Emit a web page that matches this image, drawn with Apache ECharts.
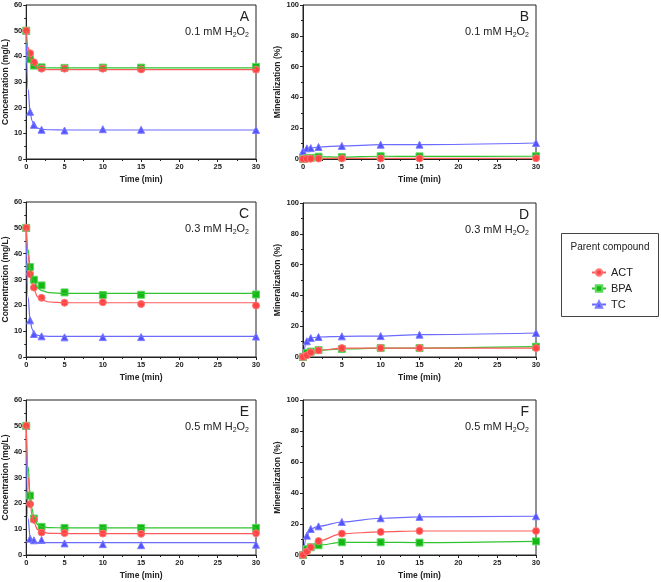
<!DOCTYPE html>
<html>
<head>
<meta charset="utf-8">
<script src="https://cdn.jsdelivr.net/npm/echarts@6/dist/echarts.min.js"></script>
<style>
  html, body { margin: 0; padding: 0; background: #fff; }
  #chart { width: 661px; height: 582px; }
</style>
</head>
<body>
<div id="chart"></div>
<script>
// sampling times (min)
const timePts = [0, 0.5, 1, 2, 5, 10, 15, 30]
const fitTimes = [0, 0.25, 0.5, 0.75, 1, 1.5, 2, 3, 5, 30]

// concentration (mg/L) - panels A, C, E
const concA_ACT = [50, 41.2, 37.7, 35.2, 35.2, 35.2, 34.9, 34.8]
const concA_BPA = [50, 38.9, 36.4, 35.7, 35.5, 35.6, 35.6, 35.9]
const concA_TC = [50, 18.4, 13.3, 11.4, 11.1, 11.6, 11.4, 11.3]
const concC_ACT = [50, 32.1, 26.9, 22.9, 21.0, 21.2, 20.5, 19.9]
const concC_BPA = [50, 34.8, 29.9, 27.7, 25.0, 24.0, 24.1, 24.2]
const concC_TC = [50, 14.2, 8.9, 8.0, 7.6, 7.7, 7.7, 7.9]
const concE_ACT = [50, 19.7, 13.6, 8.7, 8.5, 8.3, 8.2, 8.4]
const concE_BPA = [50, 23.0, 14.1, 10.9, 10.5, 10.5, 10.5, 10.5]
const concE_TC = [50, 6.3, 5.7, 5.8, 4.5, 4.2, 3.8, 4.0]

// fitted curves, read at fitTimes
const fitA_ACT = [50, 43.5, 40, 37.8, 36.5, 35.4, 35.0, 34.8, 34.8, 34.8]
const fitA_BPA = [50, 42, 38.5, 37, 36.2, 35.7, 35.6, 35.5, 35.5, 35.5]
const fitA_TC = [48, 27, 18.5, 15, 13.3, 12, 11.6, 11.4, 11.3, 11.3]
const fitC_ACT = [50, 39.5, 32.5, 28.5, 26, 23.3, 22.1, 21.3, 21.0, 21.0]
const fitC_BPA = [50, 41.5, 35, 31.5, 29.3, 26.8, 25.7, 24.9, 24.6, 24.6]
const fitC_TC = [48, 23, 14.5, 11, 9.3, 8.4, 8.1, 8.0, 8.0, 8.0]
const fitE_ACT = [50, 30, 20.5, 15.5, 12.5, 9.8, 8.9, 8.4, 8.3, 8.3]
const fitE_BPA = [50, 34, 24, 18, 14.5, 11.8, 11.0, 10.6, 10.5, 10.5]
const fitE_TC = [46, 14, 7, 5.5, 5.0, 4.8, 4.8, 4.8, 4.8, 4.8]

// mineralization (%) - panels B, D, F
const minB_ACT = [0, 0.1, 0.2, 0.3, 0.4, 0.4, 0.4, 0.5]
const minB_BPA = [0, 0.5, 0.7, 1.5, 1.2, 1.8, 1.7, 1.8]
const minB_TC = [5, 6.9, 7.1, 7.8, 8.5, 9.3, 9.3, 10.4]
const minD_ACT = [0, 1.1, 3.0, 4.3, 5.8, 5.8, 5.8, 5.8]
const minD_BPA = [0, 2.6, 3.5, 4.5, 5.2, 5.8, 5.8, 6.7]
const minD_TC = [0, 10.2, 12.3, 13.0, 13.4, 13.6, 14.5, 15.6]
const minF_ACT = [0, 2.2, 5.0, 9.0, 13.8, 14.9, 15.5, 15.5]
const minF_BPA = [0, 3.7, 5.0, 6.3, 8.2, 8.2, 8.0, 8.8]
const minF_TC = [0, 12.5, 16.8, 18.5, 21.3, 23.7, 24.6, 25.0]

const panelLetters = ['A', 'B', 'C', 'D', 'E', 'F']
const doses = ['0.1', '0.1', '0.3', '0.3', '0.5', '0.5']
const compounds = ['ACT', 'BPA', 'TC']

const FONT = 'Arial, "Liberation Sans", sans-serif'
const INK = '#222'
const style = {
  ACT: { color: '#ff4242', border: '#ff7a7a', line: '#ff5c5c', symbol: 'circle', size: 7 },
  BPA: { color: '#14b814', border: '#5fd85f', line: '#2fc42f', symbol: 'rect', size: 7 },
  TC: { color: '#5252ff', border: '#7d7dff', line: '#6b6bff', symbol: 'triangle', size: 7 }
}

const grids = [
  { left: 24, top: 5, width: 232, height: 154 },
  { left: 303, top: 5, width: 233, height: 154 },
  { left: 24, top: 202, width: 232, height: 155 },
  { left: 303, top: 203, width: 233, height: 154 },
  { left: 24, top: 400, width: 232, height: 155 },
  { left: 303, top: 400, width: 233, height: 155 }
]

const zip = (xs, ys) => xs.map((x, i) => [x, ys[i]])

function axisBase () {
  return {
    type: 'value',
    axisLine: { show: true, onZero: false, lineStyle: { color: INK, width: 1 } },
    axisTick: { show: true, inside: false, length: 3, lineStyle: { color: INK } },
    minorTick: { show: true, splitNumber: 2, length: 2, lineStyle: { color: INK } },
    splitLine: { show: false },
    axisLabel: { fontSize: 7.5, fontWeight: 'bold', color: INK, fontFamily: FONT, margin: 4 },
    nameTextStyle: { fontSize: 8.5, fontWeight: 'bold', color: INK, fontFamily: FONT }
  }
}

const xAxes = grids.map((g, i) => Object.assign(axisBase(), {
  gridIndex: i, min: 0, max: 30, interval: 5,
  name: 'Time (min)', nameLocation: 'middle', nameGap: 16
}))

const yAxes = grids.map((g, i) => {
  const conc = i % 2 === 0
  return Object.assign(axisBase(), {
    gridIndex: i, min: 0,
    max: conc ? 60 : 100,
    interval: conc ? 10 : 20,
    name: conc ? 'Concentration (mg/L)' : 'Mineralization (%)',
    nameLocation: 'middle',
    nameGap: conc ? 13 : 12
  })
})

const series = []

// mineralization panels first so the legend icon takes line + symbol
const minData = {
  1: { ACT: minB_ACT, BPA: minB_BPA, TC: minB_TC },
  3: { ACT: minD_ACT, BPA: minD_BPA, TC: minD_TC },
  5: { ACT: minF_ACT, BPA: minF_BPA, TC: minF_TC }
}
for (const idx in minData) {
  ['TC', 'BPA', 'ACT'].forEach(c => {
    const s = style[c]
    series.push({
      name: c, type: 'line', xAxisIndex: +idx, yAxisIndex: +idx,
      smooth: 0.3, smoothMonotone: 'x',
      symbol: s.symbol, symbolSize: s.size,
      lineStyle: { color: s.line, width: 1.2 },
      itemStyle: { color: s.color, borderColor: s.border, borderWidth: 1 },
      data: zip(timePts, minData[idx][c])
    })
  })
}

const concData = {
  0: { ACT: concA_ACT, BPA: concA_BPA, TC: concA_TC },
  2: { ACT: concC_ACT, BPA: concC_BPA, TC: concC_TC },
  4: { ACT: concE_ACT, BPA: concE_BPA, TC: concE_TC }
}
const fitData = {
  0: { ACT: fitA_ACT, BPA: fitA_BPA, TC: fitA_TC },
  2: { ACT: fitC_ACT, BPA: fitC_BPA, TC: fitC_TC },
  4: { ACT: fitE_ACT, BPA: fitE_BPA, TC: fitE_TC }
}
for (const idx in concData) {
  ['TC', 'BPA', 'ACT'].forEach(c => {
    series.push({
      name: c + ' fit', type: 'line', xAxisIndex: +idx, yAxisIndex: +idx,
      smooth: 0.4, smoothMonotone: 'x', showSymbol: false, symbol: 'none',
      lineStyle: { color: style[c].line, width: 1.2 },
      data: zip(fitTimes, fitData[idx][c])
    })
  })
  ;['TC', 'BPA', 'ACT'].forEach(c => {
    const s = style[c]
    series.push({
      name: c, type: 'scatter', xAxisIndex: +idx, yAxisIndex: +idx,
      symbol: s.symbol, symbolSize: s.size,
      itemStyle: { color: s.color, borderColor: s.border, borderWidth: 1, opacity: 1 },
      data: zip(timePts, concData[idx][c])
    })
  })
}

// panel letters and H2O2 dose labels
const graphics = []
grids.forEach((g, i) => {
  const right = g.left + g.width - 7
  graphics.push({
    type: 'text', x: right, y: g.top + 12,
    style: { text: panelLetters[i], font: '14px ' + FONT, fill: INK, align: 'right', verticalAlign: 'middle' }
  })
  graphics.push({
    type: 'text', x: right, y: g.top + 27,
    style: {
      text: '{n|' + doses[i] + ' mM H}{s|2}{n|O}{s|2}',
      align: 'right', verticalAlign: 'middle',
      rich: {
        n: { fontSize: 11, fontFamily: FONT, fill: INK, lineHeight: 14 },
        s: { fontSize: 7, fontFamily: FONT, fill: INK, lineHeight: 7, verticalAlign: 'bottom' }
      }
    }
  })
})
// legend box
graphics.push({
  type: 'rect', shape: { x: 561.5, y: 233.5, width: 97, height: 83 },
  style: { fill: '#fff', stroke: '#444', lineWidth: 1 }, z: 0
})
graphics.push({
  type: 'text', x: 610, y: 247,
  style: { text: 'Parent compound', font: '10px ' + FONT, fill: INK, align: 'center', verticalAlign: 'middle' }
})

const chart = echarts.init(document.getElementById('chart'), null, { renderer: 'canvas' })
chart.setOption({
  animation: false,
  backgroundColor: '#fff',
  grid: grids.map(g => Object.assign({ show: true, borderColor: INK, borderWidth: 1, containLabel: false }, g)),
  xAxis: xAxes,
  yAxis: yAxes,
  legend: {
    data: compounds,
    orient: 'vertical',
    left: 586,
    top: 262,
    itemWidth: 14,
    itemHeight: 8,
    itemGap: 5,
    selectedMode: false,
    textStyle: { fontSize: 11, color: INK, fontFamily: FONT }
  },
  graphic: graphics,
  series: series
})
</script>
</body>
</html>
